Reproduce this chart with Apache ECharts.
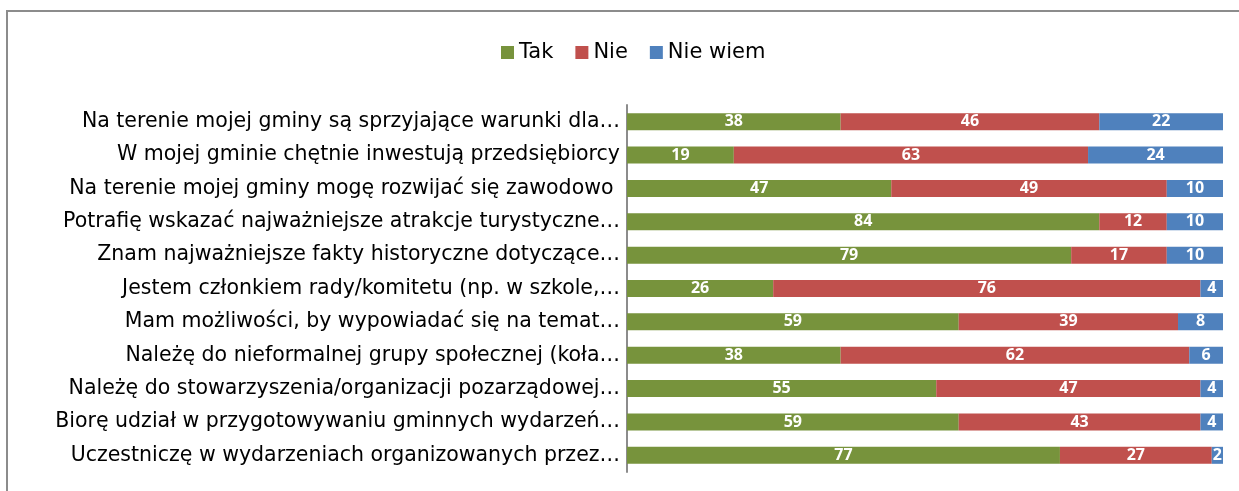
<!DOCTYPE html>
<html>
<head>
<meta charset="utf-8">
<script src="https://cdn.jsdelivr.net/npm/echarts@6/dist/echarts.min.js"></script>
<style>
  html, body { margin: 0; padding: 0; background: #fff; }
  #chart { width: 1239px; height: 491px; }
</style>
</head>
<body>
<div id="chart"></div>
<script>
// kategorie (od góry)
const categories = [
  "Na terenie mojej gminy są sprzyjające warunki dla…",
  "W mojej gminie chętnie inwestują przedsiębiorcy",
  "Na terenie mojej gminy mogę rozwijać się zawodowo ",
  "Potrafię wskazać najważniejsze atrakcje turystyczne…",
  "Znam najważniejsze fakty historyczne dotyczące…",
  "Jestem członkiem rady/komitetu (np. w szkole,…",
  "Mam możliwości, by wypowiadać się na temat…",
  "Należę do nieformalnej grupy społecznej (koła…",
  "Należę do stowarzyszenia/organizacji pozarządowej…",
  "Biorę udział w przygotowywaniu gminnych wydarzeń…",
  "Uczestniczę w wydarzeniach organizowanych przez…"
];
const tak = [38, 19, 47, 84, 79, 26, 59, 38, 55, 59, 77];
const nie = [46, 63, 49, 12, 17, 76, 39, 62, 47, 43, 27];
const nieWiem = [22, 24, 10, 10, 10, 4, 8, 6, 4, 4, 2];

const chart = echarts.init(document.getElementById("chart"));

const labelStyle = {
  show: true,
  position: "inside",
  color: "#ffffff",
  fontFamily: "Open Sans",
  fontWeight: "bold",
  fontSize: 16
};

function makeSeries(name, data, color) {
  return {
    name: name,
    type: "bar",
    stack: "all",
    data: data,
    barWidth: 17,
    itemStyle: { color: color },
    label: labelStyle
  };
}

chart.setOption({
  animation: false,
  graphic: [
    {
      type: "rect",
      shape: { x: 7, y: 11, width: 2000, height: 2000 },
      style: { fill: "none", stroke: "#8c8c8c", lineWidth: 2 }
    }
  ],
  legend: {
    top: 37,
    left: 496,
    itemWidth: 13,
    itemHeight: 13,
    itemGap: 22,
    icon: "rect",
    textStyle: { fontFamily: "DejaVu Sans", fontSize: 21, color: "#000" },
    data: ["Tak", "Nie", "Nie wiem"]
  },
  grid: {
    left: 627,
    right: 16,
    top: 105,
    bottom: 19
  },
  xAxis: {
    type: "value",
    min: 0,
    max: 106,
    show: false
  },
  yAxis: {
    type: "category",
    inverse: true,
    data: categories,
    axisTick: { show: false },
    axisLine: { lineStyle: { color: "#8c8c8c", width: 2 } },
    axisLabel: {
      margin: 7,
      fontFamily: "DejaVu Sans",
      fontSize: 20.5,
      color: "#000"
    }
  },
  series: [
    makeSeries("Tak", tak, "#77933C"),
    makeSeries("Nie", nie, "#C0504D"),
    makeSeries("Nie wiem", nieWiem, "#4F81BD")
  ]
});
</script>
</body>
</html>
